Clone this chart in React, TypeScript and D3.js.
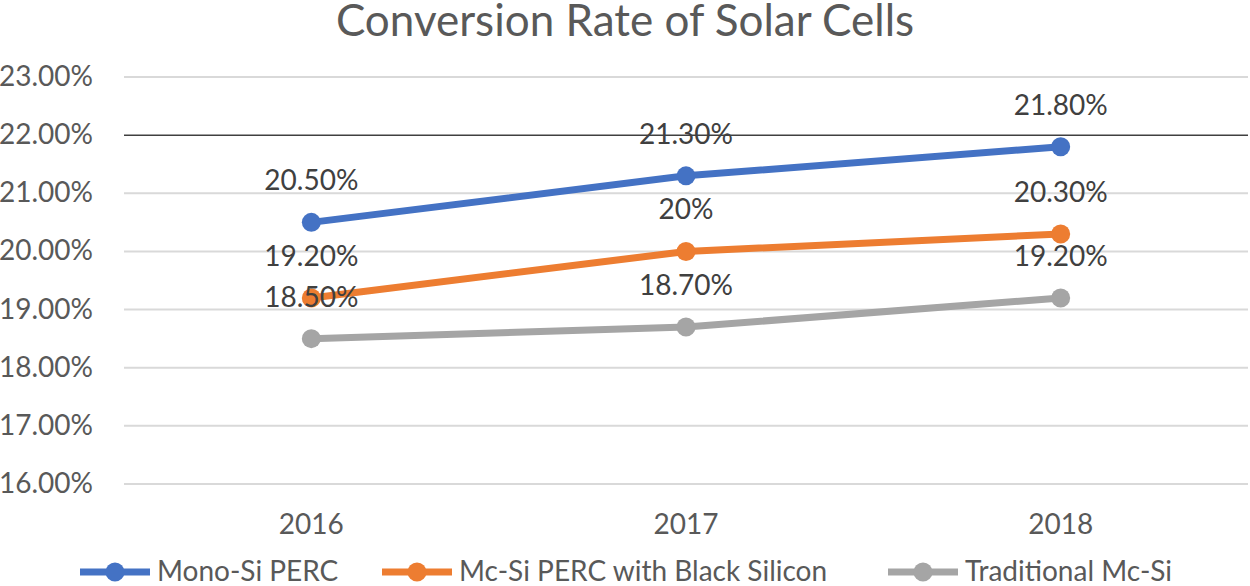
import React, { useEffect, useRef } from 'react';
import * as d3 from 'd3';

const years = ['2016', '2017', '2018'];
const monoSiPerc = [20.5, 21.3, 21.8];
const mcSiPercBlack = [19.2, 20.0, 20.3];
const traditionalMcSi = [18.5, 18.7, 19.2];
const labelsMono = ['20.50%', '21.30%', '21.80%'];
const labelsMcBlack = ['19.20%', '20%', '20.30%'];
const labelsTraditional = ['18.50%', '18.70%', '19.20%'];
const yTicks = [16, 17, 18, 19, 20, 21, 22, 23];

const series = [
  { name: 'Mono-Si PERC', values: monoSiPerc, labels: labelsMono, color: '#4472C4' },
  { name: 'Mc-Si PERC with Black Silicon', values: mcSiPercBlack, labels: labelsMcBlack, color: '#ED7D31' },
  { name: 'Traditional Mc-Si', values: traditionalMcSi, labels: labelsTraditional, color: '#A5A5A5' },
];

const App: React.FC = () => {
  const svgRef = useRef<SVGSVGElement>(null);

  useEffect(() => {
    if (!svgRef.current) return;
    const font = 'Lato, sans-serif';
    const svg = d3.select(svgRef.current);
    svg.selectAll('*').remove();

    const left = 124;
    const right = 1248;

    const x = d3.scaleBand<string>().domain(years).range([left, right]);
    const y = d3.scaleLinear().domain([16, 23]).range([484, 77]);

    // Title
    svg.append('text')
      .attr('x', 625)
      .attr('y', 36)
      .attr('text-anchor', 'middle')
      .attr('fill', '#595959')
      .attr('font-family', font)
      .attr('font-size', 44)
      .text('Conversion Rate of Solar Cells');

    // Gridlines
    svg.append('g')
      .selectAll('line')
      .data(yTicks)
      .join('line')
      .attr('x1', left)
      .attr('x2', right)
      .attr('y1', d => y(d))
      .attr('y2', d => y(d))
      .attr('stroke', d => (d === 22 ? '#404040' : '#D9D9D9'))
      .attr('stroke-width', d => (d === 22 ? 1.5 : 2));

    // Y tick labels
    svg.append('g')
      .selectAll('text')
      .data(yTicks)
      .join('text')
      .attr('x', 93)
      .attr('y', d => y(d) + 9)
      .attr('text-anchor', 'end')
      .attr('fill', '#595959')
      .attr('font-family', font)
      .attr('font-size', 28)
      .text(d => d.toFixed(2) + '%');

    // X tick labels
    svg.append('g')
      .selectAll('text')
      .data(years)
      .join('text')
      .attr('x', d => (x(d) ?? 0) + x.bandwidth() / 2)
      .attr('y', 534)
      .attr('text-anchor', 'middle')
      .attr('fill', '#595959')
      .attr('font-family', font)
      .attr('font-size', 28)
      .text(d => d);

    const line = d3.line<number>()
      .x((_, i) => (x(years[i]) ?? 0) + x.bandwidth() / 2)
      .y(d => y(d));

    series.forEach(s => {
      const g = svg.append('g');
      g.append('path')
        .attr('d', line(s.values) as string)
        .attr('fill', 'none')
        .attr('stroke', s.color)
        .attr('stroke-width', 7)
        .attr('stroke-linecap', 'round');
      g.selectAll('circle')
        .data(s.values)
        .join('circle')
        .attr('cx', (_, i) => (x(years[i]) ?? 0) + x.bandwidth() / 2)
        .attr('cy', d => y(d))
        .attr('r', 9.5)
        .attr('fill', s.color);
    });

    // Data labels
    series.forEach(s => {
      svg.append('g')
        .selectAll('text')
        .data(s.values)
        .join('text')
        .attr('x', (_, i) => (x(years[i]) ?? 0) + x.bandwidth() / 2)
        .attr('y', d => y(d) - 32)
        .attr('text-anchor', 'middle')
        .attr('fill', '#404040')
        .attr('font-family', font)
        .attr('font-size', 28)
        .text((_, i) => s.labels[i]);
    });

    // Legend
    const legendX = [80, 382, 888];
    const legend = svg.append('g');
    series.forEach((s, i) => {
      const lx = legendX[i];
      const ly = 572;
      legend.append('line')
        .attr('x1', lx)
        .attr('x2', lx + 70)
        .attr('y1', ly)
        .attr('y2', ly)
        .attr('stroke', s.color)
        .attr('stroke-width', 7);
      legend.append('circle')
        .attr('cx', lx + 35)
        .attr('cy', ly)
        .attr('r', 9.5)
        .attr('fill', s.color);
      legend.append('text')
        .attr('x', lx + 77)
        .attr('y', ly + 9)
        .attr('fill', '#595959')
        .attr('font-family', font)
        .attr('font-size', 28)
        .text(s.name);
    });
  }, []);

  return (
    <div style={{ position: 'absolute', left: 0, top: 0, width: 1250, height: 586, background: '#fff' }}>
      <svg ref={svgRef} width="1250" height="586"></svg>
    </div>
  );
};

export default App;
